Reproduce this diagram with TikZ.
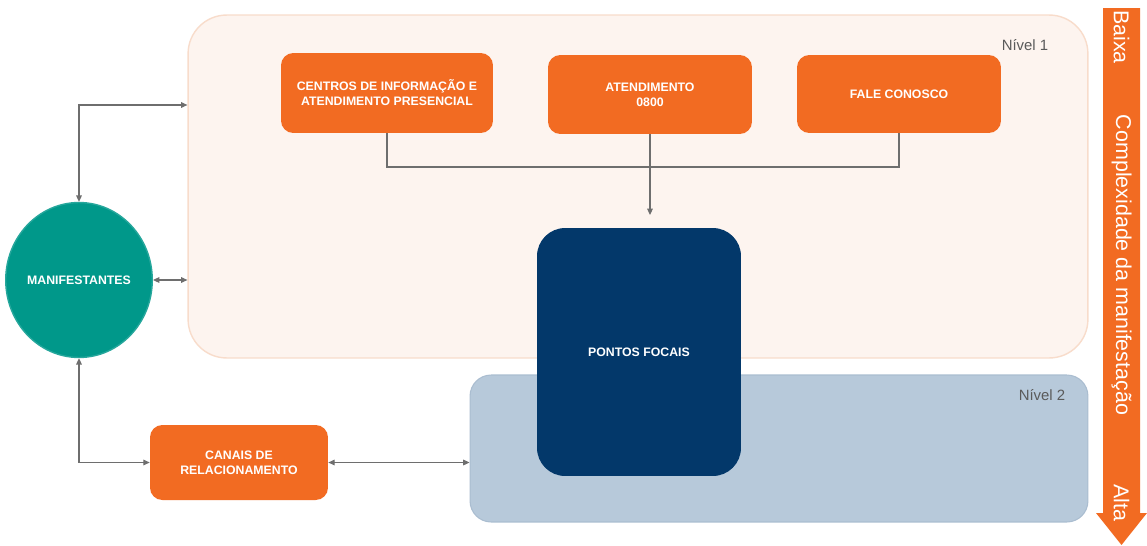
\documentclass[tikz,border=0pt]{standalone}
\usepackage{fontspec}
\setmainfont{Liberation Sans}
\usetikzlibrary{arrows.meta,shapes.geometric}
\definecolor{orng}{HTML}{F26B22}
\definecolor{navy}{HTML}{03386A}
\definecolor{teal2}{HTML}{00988A}
\definecolor{peach}{HTML}{FDF4EF}
\definecolor{peachline}{HTML}{F8DCCB}
\definecolor{lvl2}{HTML}{B7C9DA}
\definecolor{lvl2line}{HTML}{AABDD0}
\definecolor{conn}{HTML}{6E6E6E}
\definecolor{lbl}{HTML}{5A5A5A}
\tikzset{
  obox/.style={rectangle, rounded corners=7pt, fill=orng, text=white, align=center,
    font=\fontsize{7}{8.6}\selectfont\bfseries, inner sep=2pt},
  conline/.style={draw=conn, line width=0.6pt},
  tip/.style={-{Triangle[length=3.6pt,width=3.2pt]}},
  btip/.style={{Triangle[length=3.6pt,width=3.2pt]}-{Triangle[length=3.6pt,width=3.2pt]}},
  vtext/.style={text=white, rotate=-90, font=\fontsize{12.2}{14}\selectfont, inner sep=0pt},
  lvllabel/.style={text=lbl, font=\fontsize{8.5}{10}\selectfont, inner sep=0pt}
}
\begin{document}
\begin{tikzpicture}[x=0.02cm,y=-0.02cm]
\useasboundingbox[fill=white] (0,0) rectangle (1147,545);
% level backgrounds
\node[rectangle, rounded corners=22pt, fill=peach, draw=peachline, line width=0.8pt,
  minimum width=18cm, minimum height=6.86cm] (n1) at (638,186.5) {};
\node[rectangle, rounded corners=12pt, fill=lvl2, draw=lvl2line, line width=0.6pt,
  minimum width=12.36cm, minimum height=2.94cm] (n2) at (779,448.5) {};
\node[lvllabel] (l1) at (1025,45) {Nível 1};
\node[lvllabel] (l2) at (1042,395) {Nível 2};
% boxes
\node[obox, minimum width=4.24cm, minimum height=1.6cm] (ci) at (387,93)
  {CENTROS DE INFORMAÇÃO E\\ATENDIMENTO PRESENCIAL};
\node[obox, minimum width=4.08cm, minimum height=1.58cm] (at) at (650,94.5)
  {ATENDIMENTO\\0800};
\node[obox, minimum width=4.08cm, minimum height=1.56cm] (fc) at (899,94)
  {FALE CONOSCO};
\node[obox, minimum width=3.56cm, minimum height=1.5cm] (cr) at (239,462.5)
  {CANAIS DE\\RELACIONAMENTO};
\node[ellipse, fill=teal2, draw=teal2!85!white, line width=0.8pt, minimum width=2.68cm, minimum height=3.1cm,
  text=white, font=\fontsize{7}{8.6}\selectfont\bfseries, inner sep=0pt] (mf) at (79,280) {MANIFESTANTES};
% connectors
\coordinate (bus) at (0,167);
\coordinate (top) at (0,105);
\draw[conline] (ci.south) |- (bus -| at.south) -| (fc.south);
\draw[conline, tip, shorten >=0.26cm] (at.south) -- (at.south |- 0,228);
\draw[conline, btip] (mf.north) |- (n1.west |- top);
\draw[conline, btip] (mf.east) -- (n1.west |- mf.east);
\draw[conline, btip] (mf.south) |- (cr.west);
\draw[conline, btip] (cr.east) -- (n2.west |- cr.east);
% pontos focais
\node[rectangle, rounded corners=16pt, fill=navy, text=white, minimum width=4.08cm, minimum height=4.96cm,
  font=\fontsize{7}{8.6}\selectfont\bfseries] (pf) at (639,352) {PONTOS FOCAIS};
% complexity arrow
\fill[orng] (1103,8) -- (1140,8) -- (1140,513) -- (1147,513) -- (1121.5,545) -- (1096,513) -- (1103,513) -- cycle;
\node[vtext] (bx) at (1121.5,37) {Baixa};
\node[vtext] (cx) at (1121.5,265) {Complexidade da manifestação};
\node[vtext] (al) at (1121.5,503) {Alta};
\end{tikzpicture}
\end{document}
